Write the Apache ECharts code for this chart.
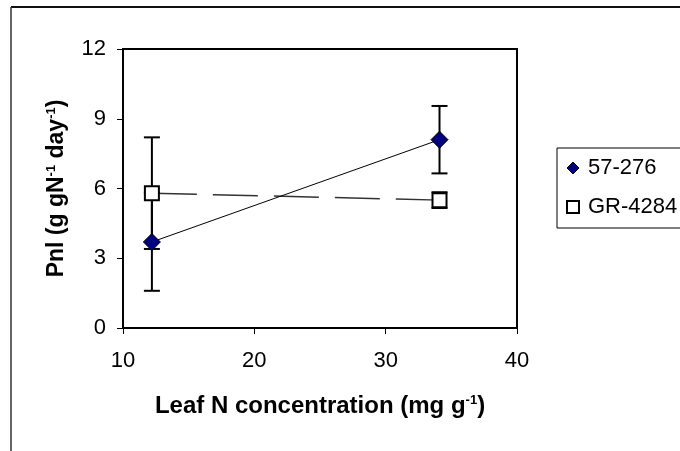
<!DOCTYPE html>
<html>
<head>
<meta charset="utf-8">
<script src="https://cdn.jsdelivr.net/npm/echarts@6/dist/echarts.min.js"></script>
<style>
html,body{margin:0;padding:0;background:#fff;}
#chart{width:680px;height:451px;}
</style>
</head>
<body>
<div id="chart"></div>
<script>
// Data
const xValues = [12.2, 34.1];
const seriesNames = ['57-276', 'GR-4284'];
const pnl57 = [3.7, 8.1];
const err57 = [2.1, 1.45];
const pnlGR = [5.8, 5.5];
const errGR = [2.4, 0.34];
const xTicks = [10, 20, 30, 40];
const yTicks = [0, 3, 6, 9, 12];

const FONT = '"Liberation Sans", Arial, sans-serif';

function pairs(xs, ys) { return xs.map((x, i) => [x, ys[i]]); }
function errData(xs, ys, es) { return xs.map((x, i) => [x, ys[i] - es[i], ys[i] + es[i]]); }

function renderErr(params, api) {
  const x = api.value(0);
  const lo = api.coord([x, api.value(1)]);
  const hi = api.coord([x, api.value(2)]);
  const hw = 8;
  const style = { stroke: '#000', lineWidth: 2, fill: null };
  return {
    type: 'group',
    children: [
      { type: 'line', shape: { x1: lo[0], y1: lo[1], x2: hi[0], y2: hi[1] }, style: style },
      { type: 'line', shape: { x1: lo[0] - hw, y1: lo[1], x2: lo[0] + hw, y2: lo[1] }, style: style },
      { type: 'line', shape: { x1: hi[0] - hw, y1: hi[1], x2: hi[0] + hw, y2: hi[1] }, style: style }
    ]
  };
}

const chart = echarts.init(document.getElementById('chart'), null, { renderer: 'canvas' });

const supRich = {
  sup: { fontSize: 13, fontWeight: 'bold', fontFamily: FONT, color: '#000', verticalAlign: 'top', padding: [0, 0, 10, 0] }
};

chart.setOption({
  animation: false,
  backgroundColor: '#fff',
  textStyle: { fontFamily: FONT },
  graphic: [
    { type: 'line', shape: { x1: 11, y1: 7, x2: 680, y2: 7 }, style: { stroke: '#111', lineWidth: 2 } },
    { type: 'line', shape: { x1: 11, y1: 7, x2: 11, y2: 451 }, style: { stroke: '#333', lineWidth: 1.5 } }
  ],
  grid: {
    left: 123, top: 49, right: 163, bottom: 123,
    show: true, borderColor: '#000', borderWidth: 2, backgroundColor: 'transparent',
    containLabel: false
  },
  legend: {
    orient: 'vertical',
    left: 557, top: 148,
    padding: [9, 12, 10, 9],
    itemGap: 17,
    itemWidth: 12, itemHeight: 12,
    borderColor: '#000', borderWidth: 1,
    textStyle: { fontFamily: FONT, fontSize: 22, color: '#000', padding: [0, 0, 0, 4] },
    data: [
      { name: seriesNames[0], icon: 'diamond', itemStyle: { color: '#000080', borderColor: '#000', borderWidth: 1 } },
      { name: seriesNames[1], icon: 'rect', itemStyle: { color: '#fff', borderColor: '#000', borderWidth: 2 } }
    ]
  },
  xAxis: {
    type: 'value', min: xTicks[0], max: xTicks[xTicks.length - 1], interval: 10,
    axisLine: { show: true, onZero: false, lineStyle: { color: '#000', width: 2 } },
    axisTick: { show: true, inside: false, length: 6, lineStyle: { color: '#000', width: 1 } },
    axisLabel: { fontSize: 22, color: '#000', margin: 22, fontFamily: FONT },
    splitLine: { show: false },
    name: 'Leaf N concentration (mg g{sup|-1})',
    nameLocation: 'middle', nameGap: 66,
    nameTextStyle: { fontSize: 24, fontWeight: 'bold', color: '#000', fontFamily: FONT, rich: supRich }
  },
  yAxis: {
    type: 'value', min: yTicks[0], max: yTicks[yTicks.length - 1], interval: 3,
    axisLine: { show: true, onZero: false, lineStyle: { color: '#000', width: 2 } },
    axisTick: { show: true, inside: false, length: 6, lineStyle: { color: '#000', width: 1 } },
    axisLabel: { fontSize: 22, color: '#000', margin: 17, fontFamily: FONT },
    splitLine: { show: false },
    name: 'Pnl (g gN{sup|-1} day{sup|-1})',
    nameLocation: 'middle', nameGap: 55, nameRotate: 90,
    nameTextStyle: { fontSize: 23, fontWeight: 'bold', color: '#000', fontFamily: FONT, rich: supRich }
  },
  series: [
    {
      name: seriesNames[1] + ' err', type: 'custom', renderItem: renderErr,
      data: errData(xValues, pnlGR, errGR), z: 2, silent: true
    },
    {
      name: seriesNames[0] + ' err', type: 'custom', renderItem: renderErr,
      data: errData(xValues, pnl57, err57), z: 2, silent: true
    },
    {
      name: seriesNames[1], type: 'line', data: pairs(xValues, pnlGR),
      symbol: 'rect', symbolSize: 14,
      lineStyle: { color: '#333', width: 1.5, type: [45, 16] },
      itemStyle: { color: '#fff', borderColor: '#000', borderWidth: 2 },
      z: 3
    },
    {
      name: seriesNames[0], type: 'line', data: pairs(xValues, pnl57),
      symbol: 'diamond', symbolSize: 17,
      lineStyle: { color: '#000', width: 1 },
      itemStyle: { color: '#000080', borderColor: '#000', borderWidth: 1 },
      z: 4
    }
  ]
});
</script>
</body>
</html>
